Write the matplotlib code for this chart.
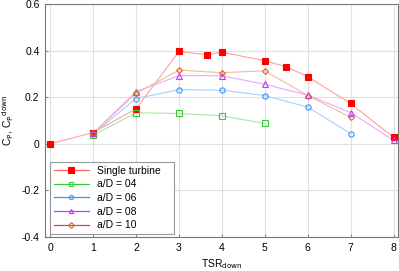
import matplotlib
matplotlib.use("Agg")
import matplotlib.pyplot as plt
from matplotlib.lines import Line2D

plt.rcParams['font.family'] = ['Liberation Sans', 'DejaVu Sans']

# single turbine
tsr_single = [0, 1, 2, 3, 3.66, 4, 5, 5.5, 6, 7, 8]
cp_single = [0.0, 0.048, 0.15, 0.396, 0.382, 0.393, 0.356, 0.33, 0.288, 0.173, 0.027]

# downstream turbine at different spacings
tsr_04 = [1, 2, 3, 4, 5]
cp_04 = [0.036, 0.133, 0.13, 0.12, 0.087]
tsr_06 = [1, 2, 3, 4, 5, 6, 7]
cp_06 = [0.042, 0.194, 0.232, 0.23, 0.207, 0.157, 0.044]
tsr_08 = [1, 2, 3, 4, 5, 6, 7, 8]
cp_08 = [0.045, 0.224, 0.292, 0.292, 0.255, 0.209, 0.134, 0.015]
tsr_10 = [1, 2, 3, 4, 5, 6, 7]
cp_10 = [0.045, 0.216, 0.316, 0.305, 0.313, 0.207, 0.113]

labels = ["Single turbine", "a/D = 04", "a/D = 06", "a/D = 08", "a/D = 10"]

fig = plt.figure(figsize=(3.99, 2.71), dpi=100)
ax = fig.add_axes([0.113, 0.1255, 0.884, 0.86])

# (x, y, marker, marker colour, faded line colour, legend line colour, filled)
series = [
    (tsr_single, cp_single, "s", "#ff0000", "#ffa0a0", "#ff6666", True),
    (tsr_04, cp_04, "s", "#33cc33", "#a8e6a8", "#33cc33", False),
    (tsr_06, cp_06, "o", "#3399ff", "#a8d0ff", "#3399ff", False),
    (tsr_08, cp_08, "^", "#cc33ff", "#e6a8ff", "#cc33ff", False),
    (tsr_10, cp_10, "D", "#cc6633", "#f0bc9c", "#cc5522", False),
]

handles = []
for (x, y, mk, mc, lc, legc, filled), lab in zip(series, labels):
    ms = 4.4 if filled else (3.0 if mk == "D" else 3.8)
    ax.plot(x, y, color=lc, lw=0.8, zorder=2)
    ax.plot(x, y, ls="none", marker=mk, ms=ms, mec=mc,
            mfc=mc if filled else "none", mew=0.8, zorder=3)
    handles.append(Line2D([], [], color=legc, lw=0.9, marker=mk,
                          ms=4.0 if filled else 3.0, mec=mc,
                          mfc=mc if filled else "none", mew=0.8))

ax.set_xlim(-0.12, 8.1)
ax.set_ylim(-0.4, 0.6)
ax.set_xticks(range(0, 9))
ax.set_yticks([-0.4, -0.2, 0, 0.2, 0.4, 0.6])
ax.set_yticklabels(["-0.4", "-0.2", "0", "0.2", "0.4", "0.6"])
ax.grid(True, color="#e0e0e0", lw=0.8)
ax.set_axisbelow(True)
ax.tick_params(direction="in", length=2, labelsize=7.5, color="#888888", pad=4)
for s in ax.spines.values():
    s.set_color("#777777")
    s.set_linewidth(0.8)

ax.set_xlabel("TSR$_{\\mathrm{down}}$", fontsize=7.5, labelpad=3)
ax.set_ylabel("C$_\\mathrm{P}$, C$_\\mathrm{P}$$^{\\mathrm{down}}$", fontsize=7.5, labelpad=4)

leg = ax.legend(handles, labels, loc="lower left",
                bbox_to_anchor=(0.014, 0.013, 0.351, 0.3), mode="expand",
                borderaxespad=0, fontsize=7.5, handlelength=3.4, fancybox=False,
                framealpha=1, edgecolor="#999999", borderpad=0.35,
                labelspacing=0.35, handletextpad=0.8)
leg.get_frame().set_linewidth(0.8)

fig.savefig("out.png", dpi=100)
